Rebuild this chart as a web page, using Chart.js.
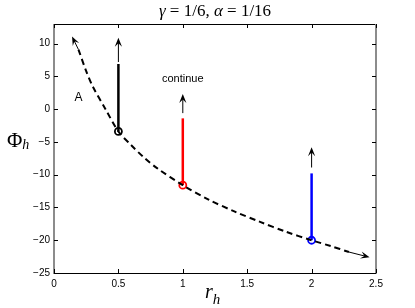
<!DOCTYPE html>
<html><head><meta charset="utf-8">
<script src="https://cdn.jsdelivr.net/npm/chart.js@4"></script>
<style>html,body{margin:0;padding:0;background:#fff}#wrap{width:415px;height:308px}</style>
</head><body><div id="wrap"><canvas id="c" width="415" height="308"></canvas></div>
<script>
// Data
const curveX = [0.19, 0.25, 0.3, 0.4, 0.5, 0.6, 0.7, 0.8, 1.0, 1.2, 1.4, 1.6, 1.8, 2.0, 2.15, 2.29];
const curveY = [9.1, 5.8, 3.5, 0.0, -3.4, -5.5, -7.4, -9.0, -11.6, -13.8, -15.6, -17.2, -18.7, -20.0, -20.9, -21.8];
const startX = [0.5, 1, 2];
const startY = [-3.4, -11.6, -20.0];
const barTopY = [6.9, -1.4, -9.8];
const arrowFromY = [7.2, -0.6, -8.9];
const arrowToY = [10.9, 2.3, -5.8];
const segColors = ['#000000', '#ff0000', '#0000ff'];
const curveArrowFrom = [[0.19, 9.1], [2.29, -21.8]];
const curveArrowTo = [[0.14, 11.1], [2.45, -22.6]];
const xTicks = [0, 0.5, 1, 1.5, 2, 2.5];
const yTicks = [-25, -20, -15, -10, -5, 0, 5, 10];
const textLabels = ['A', 'continue'];
const textPos = [[0.19, 1.8], [1.0, 4.6]];
const titleParts = [['γ', true], [' = 1/6, ', false], ['α', true], [' = 1/16', false]];

const datasets = [{
  data: curveX.map((x, i) => ({x, y: curveY[i]})),
  borderColor: '#000', borderWidth: 2, borderDash: [6, 4], pointRadius: 0, showLine: true, tension: 0.3
}];
startX.forEach((x, i) => {
  datasets.push({
    data: [{x, y: startY[i]}, {x, y: barTopY[i]}],
    borderColor: segColors[i], borderWidth: 2.5, pointRadius: 0, showLine: true
  });
});
startX.forEach((x, i) => {
  datasets.push({
    data: [{x, y: startY[i]}],
    borderColor: segColors[i], backgroundColor: 'rgba(0,0,0,0)', borderWidth: 1.8,
    pointRadius: 3.5, pointStyle: 'circle', showLine: false
  });
});

function arrow(ctx, x1, y1, x2, y2, color) {
  ctx.save();
  ctx.strokeStyle = color; ctx.fillStyle = color; ctx.lineWidth = 1;
  const a = Math.atan2(y2 - y1, x2 - x1);
  const L = 9, W = 3.6;
  ctx.beginPath(); ctx.moveTo(x1, y1); ctx.lineTo(x2 - Math.cos(a) * 4, y2 - Math.sin(a) * 4); ctx.stroke();
  ctx.beginPath();
  ctx.moveTo(x2, y2);
  ctx.lineTo(x2 - L * Math.cos(a) + W * Math.sin(a), y2 - L * Math.sin(a) - W * Math.cos(a));
  ctx.lineTo(x2 - 0.6 * L * Math.cos(a), y2 - 0.6 * L * Math.sin(a));
  ctx.lineTo(x2 - L * Math.cos(a) - W * Math.sin(a), y2 - L * Math.sin(a) + W * Math.cos(a));
  ctx.closePath(); ctx.fill();
  ctx.restore();
}

function subLabel(ctx, main, mainFont, sub, subFont, x, y, subDy) {
  ctx.font = mainFont;
  ctx.fillText(main, x, y);
  const w = ctx.measureText(main).width;
  ctx.font = subFont;
  ctx.fillText(sub, x + w, y + subDy);
}

const deco = {
  id: 'deco',
  afterDatasetsDraw(chart) {
    const {ctx, chartArea: ca, scales: {x, y}} = chart;
    ctx.save();
    // arrows
    startX.forEach((sx, i) => {
      arrow(ctx, x.getPixelForValue(sx), y.getPixelForValue(arrowFromY[i]), x.getPixelForValue(sx), y.getPixelForValue(arrowToY[i]), '#000');
    });
    curveArrowFrom.forEach((f, i) => {
      const t = curveArrowTo[i];
      arrow(ctx, x.getPixelForValue(f[0]), y.getPixelForValue(f[1]), x.getPixelForValue(t[0]), y.getPixelForValue(t[1]), '#000');
    });
    // texts
    ctx.fillStyle = '#000';
    ctx.textAlign = 'center'; ctx.textBaseline = 'middle';
    ctx.font = '12px "Liberation Sans", Arial, sans-serif';
    ctx.fillText(textLabels[0], x.getPixelForValue(textPos[0][0]), y.getPixelForValue(textPos[0][1]));
    ctx.font = '11px "Liberation Sans", Arial, sans-serif';
    ctx.fillText(textLabels[1], x.getPixelForValue(textPos[1][0]), y.getPixelForValue(textPos[1][1]));
    // frame
    ctx.lineWidth = 1; ctx.strokeStyle = '#000';
    ctx.beginPath();
    ctx.moveTo(ca.left, ca.top + 0.5); ctx.lineTo(ca.right, ca.top + 0.5);
    ctx.moveTo(ca.left, ca.bottom + 0.5); ctx.lineTo(ca.right, ca.bottom + 0.5);
    ctx.stroke();
    ctx.lineWidth = 2; ctx.strokeStyle = '#8c8c8c';
    ctx.beginPath();
    ctx.moveTo(ca.left, ca.top); ctx.lineTo(ca.left, ca.bottom + 1);
    ctx.moveTo(ca.right, ca.top); ctx.lineTo(ca.right, ca.bottom + 1);
    ctx.stroke();
    // ticks inward
    ctx.lineWidth = 1; ctx.strokeStyle = '#000';
    ctx.beginPath();
    xTicks.forEach(v => {
      const px = Math.round(x.getPixelForValue(v)) + 0.5;
      ctx.moveTo(px, ca.bottom); ctx.lineTo(px, ca.bottom - 4);
      ctx.moveTo(px, ca.top); ctx.lineTo(px, ca.top + 4);
    });
    yTicks.forEach(v => {
      const py = Math.round(y.getPixelForValue(v)) + 0.5;
      ctx.moveTo(ca.left, py); ctx.lineTo(ca.left + 4, py);
      ctx.moveTo(ca.right, py); ctx.lineTo(ca.right - 4, py);
    });
    ctx.stroke();
    // title
    ctx.textAlign = 'left'; ctx.textBaseline = 'alphabetic';
    const fN = '17px "Liberation Serif", serif', fI = 'italic 17px "Liberation Serif", serif';
    let tw = 0;
    titleParts.forEach(p => { ctx.font = p[1] ? fI : fN; tw += ctx.measureText(p[0]).width; });
    let tx = (ca.left + ca.right) / 2 - tw / 2;
    titleParts.forEach(p => { ctx.font = p[1] ? fI : fN; ctx.fillText(p[0], tx, 16); tx += ctx.measureText(p[0]).width; });
    // axis labels with subscripts
    subLabel(ctx, 'Φ', '21px "Liberation Serif", serif', 'h', 'italic 14px "Liberation Serif", serif', 7, 147, 2);
    subLabel(ctx, 'r', 'italic 20px "Liberation Serif", serif', 'h', 'italic 15px "Liberation Serif", serif', 205, 298, 6);
    ctx.restore();
  }
};

new Chart(document.getElementById('c'), {
  type: 'scatter',
  data: {datasets},
  plugins: [deco],
  options: {
    responsive: false, animation: false,
    layout: {padding: {top: 24, right: 39, left: 0, bottom: 0}},
    plugins: {legend: {display: false}, tooltip: {enabled: false}, title: {display: false}},
    scales: {
      x: {type: 'linear', min: 0, max: 2.5,
        afterBuildTicks: s => { s.ticks = xTicks.map(v => ({value: v})); },
        afterFit: s => { s.height = 35; },
        grid: {display: false, drawTicks: false, tickLength: 0}, border: {display: false},
        ticks: {color: '#000', padding: 5, font: {family: '"Liberation Sans", Arial, sans-serif', size: 10}, maxRotation: 0,
          callback: v => String(v)}},
      y: {type: 'linear', min: -25, max: 13,
        afterBuildTicks: s => { s.ticks = yTicks.map(v => ({value: v})); },
        afterFit: s => { s.width = 54; },
        grid: {display: false, drawTicks: false, tickLength: 0}, border: {display: false},
        ticks: {color: '#000', padding: 4, font: {family: '"Liberation Sans", Arial, sans-serif', size: 10},
          callback: v => String(v).replace('-', '\u2212')}}
    }
  }
});
</script></body></html>
